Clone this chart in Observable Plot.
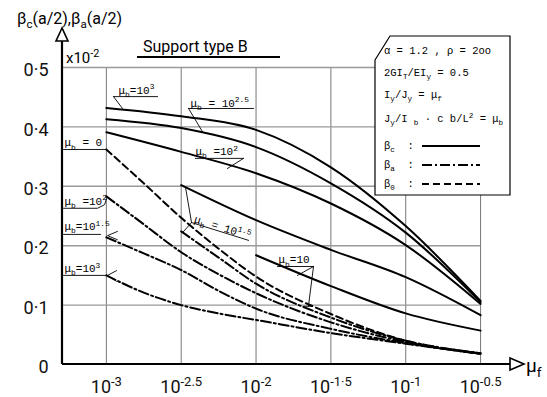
<!DOCTYPE html>
<html><head><meta charset="utf-8">
<script src="https://cdn.jsdelivr.net/npm/d3@7"></script>
<script src="https://cdn.jsdelivr.net/npm/@observablehq/plot@0.6"></script>
<style>html,body{margin:0;padding:0;background:#fff;overflow:hidden}</style>
</head><body><div id="chart"></div>
<script>
// ---------------- data ----------------
const xTicks = [-3, -2.5, -2, -1.5, -1, -0.5];            // log10(μf)
const xTickLabels = ["10^{-3}", "10^{-2.5}", "10^{-2}", "10^{-1·5}", "10^{-1}", "10^{-0.5}"];
const yTicks = [0, 0.1, 0.2, 0.3, 0.4, 0.5];
const yTickLabels = ["0", "0·1", "0·2", "0·3", "0·4", "0·5"];

// βc (solid)
const muF_full = [-3, -2.5, -2, -1.5, -1, -0.5];
const betaC_mub3 = [0.432, 0.418, 0.395, 0.332, 0.233, 0.107];
const betaC_mub25 = [0.413, 0.398, 0.366, 0.305, 0.222, 0.105];
const betaC_mub2 = [0.391, 0.358, 0.322, 0.271, 0.201, 0.102];
const muF_from25 = [-2.5, -2, -1.5, -1, -0.5];
const betaC_mub15 = [0.302, 0.243, 0.193, 0.147, 0.083];
const muF_from2 = [-2, -1.5, -1, -0.5];
const betaC_mub1 = [0.184, 0.132, 0.086, 0.057];

// β0 (dashed) and βa (dash-dot)
const muF_fine = [-3, -2.75, -2.5, -2.25, -2, -1.5, -1, -0.5];
const beta0_mub0 = [0.362, 0.305, 0.247, 0.195, 0.148, 0.085, 0.040, 0.019];
const betaA_mub2 = [0.283, 0.236, 0.189, 0.152, 0.120, 0.071, 0.038, 0.018];
const betaA_mub15 = [0.214, 0.187, 0.159, 0.124, 0.094, 0.060, 0.036, 0.018];
const betaA_mub3 = [0.150, 0.121, 0.100, 0.086, 0.075, 0.053, 0.035, 0.018];
const muF_fine25 = [-2.5, -2.25, -2, -1.5, -1, -0.5];
const betaA_mub15b = [0.224, 0.180, 0.136, 0.079, 0.040, 0.019];

// curve labels (text, anchor in data units, rotation)
const labelTexts = ["μ_b=10^3", "μ_b = 10^{2.5}", "μ_b =10^2", "μ_b = 0", "μ_b =10^2", "μ_b=10^{1.5}", "μ_b=10^3", "μ_b = 10^{1.5}", "μ_b=10"];
const labelX = [-2.919, -2.438, -2.405, -3.280, -3.280, -3.280, -3.280, -2.411, -1.850];
const labelY = [0.462, 0.440, 0.358, 0.373, 0.275, 0.232, 0.161, 0.245, 0.176];
const labelRotate = [0, 0, 0, 0, 0, 0, 0, 17, 0];
// leader / underline polylines for labels (data units)
const leaders = [
  [[-2.952, 0.451], [-2.658, 0.451]],
  [[-2.952, 0.451], [-2.892, 0.431]],
  [[-2.451, 0.431], [-2.017, 0.431]],
  [[-2.451, 0.431], [-2.358, 0.392]],
  [[-2.405, 0.347], [-2.084, 0.347]],
  [[-2.084, 0.347], [-2.191, 0.330]],
  [[-3.286, 0.362], [-3.000, 0.362]],
  [[-3.286, 0.263], [-3.059, 0.263], [-3.012, 0.269], [-2.999, 0.279]],
  [[-3.286, 0.219], [-3.039, 0.219]],
  [[-2.926, 0.224], [-2.992, 0.217], [-2.926, 0.210]],
  [[-3.286, 0.150], [-2.999, 0.150]],
  [[-2.932, 0.158], [-2.992, 0.150], [-2.932, 0.140]],
  [[-2.431, 0.239], [-2.050, 0.209]],
  [[-2.431, 0.239], [-2.471, 0.298]],
  [[-2.431, 0.239], [-2.491, 0.222]],
  [[-1.857, 0.165], [-1.616, 0.165]],
  [[-1.616, 0.165], [-1.723, 0.150]],
  [[-1.616, 0.165], [-1.650, 0.098]],
  [[-1.683, 0.098], [-1.623, 0.098]]
];

// ---------------- build table ----------------
const series = [
  {id: "c3", kind: "c", xs: muF_full, ys: betaC_mub3},
  {id: "c25", kind: "c", xs: muF_full, ys: betaC_mub25},
  {id: "c2", kind: "c", xs: muF_full, ys: betaC_mub2},
  {id: "c15", kind: "c", xs: muF_from25, ys: betaC_mub15},
  {id: "c1", kind: "c", xs: muF_from2, ys: betaC_mub1},
  {id: "o0", kind: "o", xs: muF_fine, ys: beta0_mub0},
  {id: "a2", kind: "a", xs: muF_fine, ys: betaA_mub2},
  {id: "a15", kind: "a", xs: muF_fine, ys: betaA_mub15},
  {id: "a3", kind: "a", xs: muF_fine, ys: betaA_mub3},
  {id: "a15b", kind: "a", xs: muF_fine25, ys: betaA_mub15b}
];
const rows = series.flatMap(s => s.xs.map((x, i) => ({x, y: s.ys[i], id: s.id, kind: s.kind})));
const leaderRows = leaders.flatMap((pl, k) => pl.map(([x, y]) => ({x, y, k})));
const labels = labelTexts.map((t, i) => ({t, x: labelX[i], y: labelY[i], r: labelRotate[i]}));
const xLab = new Map(xTicks.map((d, i) => [d, xTickLabels[i]]));
const yLab = new Map(yTicks.map((d, i) => [d, yTickLabels[i]]));

const X0 = -3.293, XMAX = -0.28;
const plot = Plot.plot({
  width: 547, height: 397,
  marginLeft: 62, marginRight: 34, marginTop: 67, marginBottom: 33,
  x: {domain: [X0, XMAX]},
  y: {domain: [0, 0.5]},
  style: {background: "#fff", fontFamily: "Roboto", fontSize: "16px", overflow: "visible"},
  marks: [
    Plot.ruleX(xTicks, {y1: 0, y2: 0.5, stroke: "#777", strokeWidth: 1}),
    Plot.ruleY(yTicks.filter(d => d > 0), {x1: X0, x2: -0.5, stroke: "#999", strokeWidth: 1.4}),
    Plot.axisX(xTicks, {tickFormat: d => xLab.get(d), tickSize: 0, tickPadding: 16, fontSize: 18, label: null, fill: "#111"}),
    Plot.axisY(yTicks, {tickFormat: d => yLab.get(d), tickSize: 0, tickPadding: 14, fontSize: 18, dy: 3, label: null, fill: "#111"}),
    Plot.line(rows.filter(d => d.kind === "c"), {x: "x", y: "y", z: "id", stroke: "#000", strokeWidth: 2, curve: "monotone-x"}),
    Plot.line(rows.filter(d => d.kind === "a"), {x: "x", y: "y", z: "id", stroke: "#000", strokeWidth: 2, strokeDasharray: "10,3,2,3", curve: "monotone-x"}),
    Plot.line(rows.filter(d => d.kind === "o"), {x: "x", y: "y", z: "id", stroke: "#000", strokeWidth: 2, strokeDasharray: "7,4", curve: "monotone-x"}),
    Plot.line(leaderRows, {x: "x", y: "y", z: "k", stroke: "#000", strokeWidth: 0.9}),
    Plot.text(labels, {x: "x", y: "y", text: "t", rotate: "r", textAnchor: "start", fontFamily: "Liberation Mono", fontSize: 11, fill: "#000"})
  ]
});
document.getElementById("chart").appendChild(plot);

// ---------------- decorations (axes arrows, titles, legend) ----------------
const svg = d3.select(plot);
const sx = plot.scale("x"), sy = plot.scale("y");
const ax = sx.apply(X0), ay = sy.apply(0);
const deco = svg.append("g").attr("fill", "none").attr("stroke", "#000");
deco.append("line").attr("x1", ax).attr("x2", ax).attr("y1", ay).attr("y2", 41).attr("stroke-width", 2.2);
deco.append("polygon").attr("points", `${ax},28 ${ax - 6},41 ${ax + 6},41`).attr("fill", "#fff").attr("stroke-width", 1.6);
deco.append("line").attr("x1", ax).attr("x2", 510).attr("y1", ay).attr("y2", ay).attr("stroke-width", 2.2);
deco.append("polygon").attr("points", `510,${ay - 6} 524,${ay} 510,${ay + 6}`).attr("fill", "#fff").attr("stroke-width", 1.6);
deco.append("line").attr("x1", 137).attr("x2", 280).attr("y1", 57).attr("y2", 57).attr("stroke-width", 2);

const tx = svg.append("g").attr("fill", "#000").attr("font-family", "Roboto").attr("text-anchor", "start");
tx.append("text").attr("x", 17).attr("y", 24).attr("font-size", 16).text("β_c(a/2),β_a(a/2)");
tx.append("text").attr("x", 66).attr("y", 63).attr("font-size", 15).text("x10^{-2}");
tx.append("text").attr("x", 143).attr("y", 52).attr("font-size", 16).text("Support type B");
tx.append("text").attr("x", 526).attr("y", 372).attr("font-size", 19).text("μ_f");

// legend
const lg = svg.append("g").attr("text-anchor", "start");
lg.append("polygon").attr("points", "375,60 390,36 510,36 510,195 375,195").attr("fill", "#fff").attr("stroke", "#000").attr("stroke-width", 1.2);
const legendLines = ["α = 1.2 , ρ = 2oo", "2GI_T/EI_y = 0.5", "I_y/J_y = μ_f", "J_y/I _b · c b/L^2 = μ_b", "β_c  :", "β_a  :", "β_0  :"];
const legendBase = [54, 76, 98, 122, 149, 168, 187];
lg.selectAll("text.lt").data(legendLines).join("text").attr("class", "lt")
  .attr("x", 384).attr("y", (d, i) => legendBase[i]).attr("font-family", "Liberation Mono").attr("font-size", 10.5).attr("fill", "#000").text(d => d);
const legendDash = [null, "10,3,2,3", "7,4"];
legendDash.forEach((dsh, i) => {
  const l = lg.append("line").attr("x1", 422).attr("x2", 480).attr("y1", 146 + i * 19).attr("y2", 146 + i * 19).attr("stroke", "#000").attr("stroke-width", 2);
  if (dsh) l.attr("stroke-dasharray", dsh);
});

// ---------------- rich text: ^ superscript, _ subscript ----------------
const NS = "http://www.w3.org/2000/svg";
function richify(el) {
  const raw = el.textContent;
  if (!/[\^_]/.test(raw)) return;
  const fs = parseFloat(getComputedStyle(el).fontSize) || 12;
  const parts = [];
  let i = 0, buf = "";
  while (i < raw.length) {
    const ch = raw[i];
    if (ch === "^" || ch === "_") {
      if (buf) parts.push({t: buf, m: 0});
      buf = "";
      let content;
      if (raw[i + 1] === "{") { const j = raw.indexOf("}", i + 2); content = raw.slice(i + 2, j); i = j + 1; }
      else { content = raw[i + 1]; i += 2; }
      parts.push({t: content, m: ch === "^" ? 1 : -1});
    } else { buf += ch; i++; }
  }
  if (buf) parts.push({t: buf, m: 0});
  el.textContent = "";
  let cur = 0;
  for (const p of parts) {
    const ts = document.createElementNS(NS, "tspan");
    const target = p.m === 1 ? -0.42 * fs : p.m === -1 ? 0.28 * fs : 0;
    if (target - cur !== 0) ts.setAttribute("dy", target - cur);
    cur = target;
    if (p.m) ts.setAttribute("font-size", (fs * 0.72).toFixed(1));
    ts.textContent = p.t;
    el.appendChild(ts);
  }
}
plot.querySelectorAll("text").forEach(richify);
</script>
</body></html>
